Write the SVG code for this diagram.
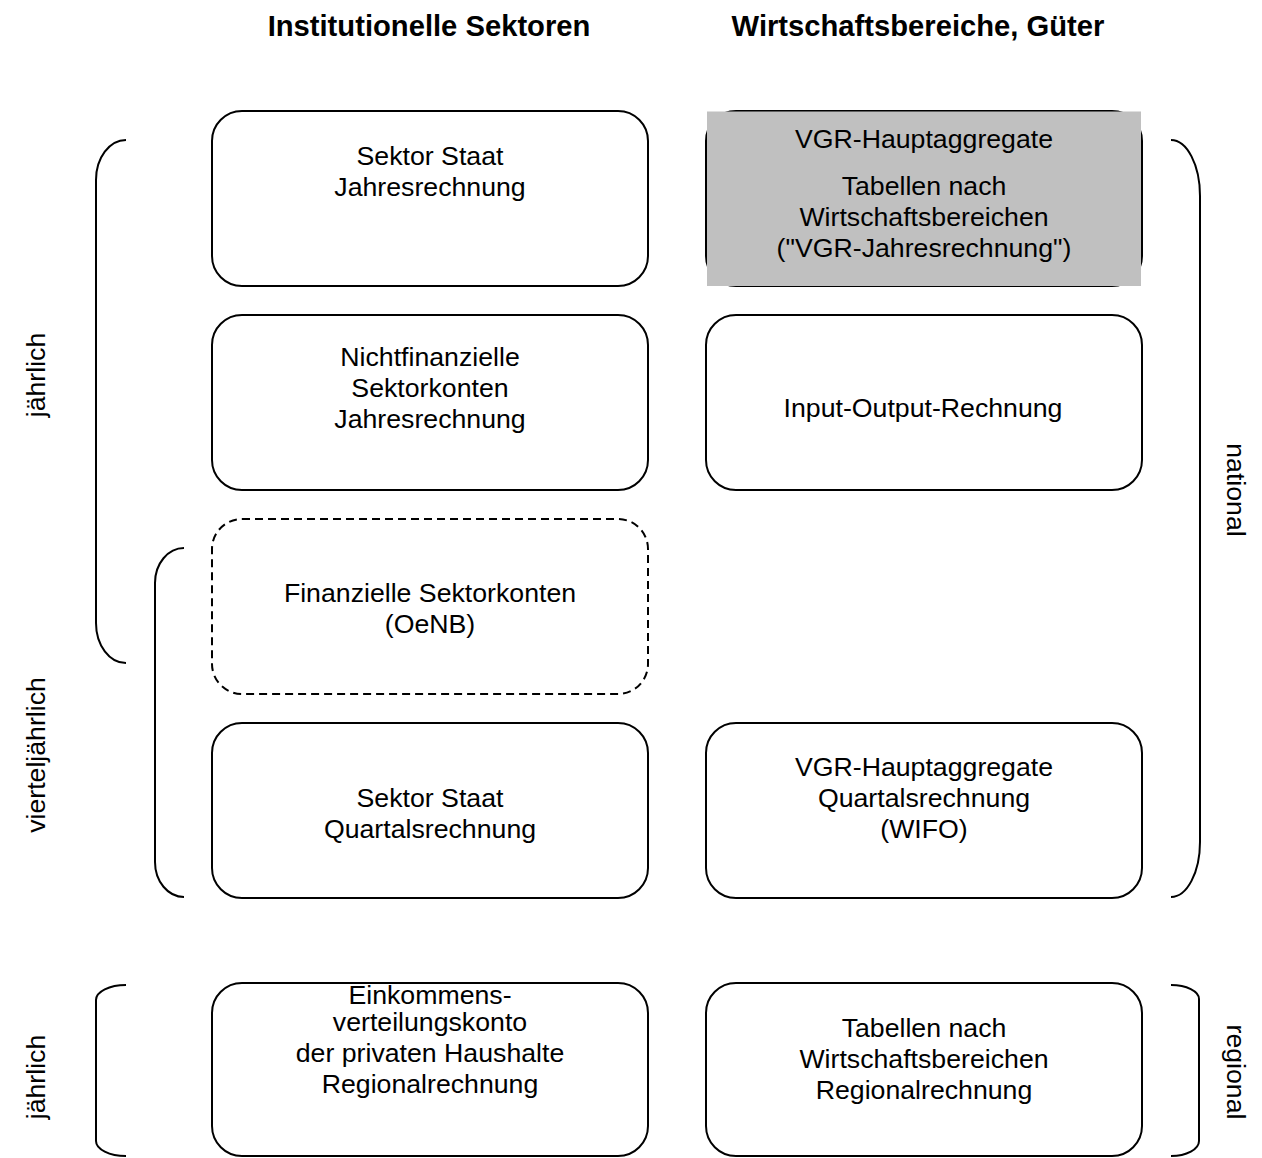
<svg xmlns="http://www.w3.org/2000/svg" width="1262" height="1158" viewBox="0 0 1262 1158">
<style>
.box{fill:#fff;stroke:#000;stroke-width:2}
.dash{fill:#fff;stroke:#000;stroke-width:2;stroke-dasharray:8 5}
.br{fill:none;stroke:#000;stroke-width:2}
text{font-family:"Liberation Sans",Arial,sans-serif;font-size:26.7px;fill:#000;text-anchor:middle}
.h{font-weight:bold;font-size:29.2px}
</style>
<rect width="1262" height="1158" fill="#fff"/>
<text class="h" x="429" y="36">Institutionelle Sektoren</text>
<text class="h" x="918" y="36">Wirtschaftsbereiche, Güter</text>
<g id="brackets">
<path class="br" d="M126,140 A30,40 0 0 0 96,180 L96,623 A30,40 0 0 0 126,663"/>
<path class="br" d="M184,548 A29,35 0 0 0 155,583 L155,862 A29,35 0 0 0 184,897"/>
<path class="br" d="M126,985 A30,15 0 0 0 96,1000 L96,1141 A30,15 0 0 0 126,1156"/>
<path class="br" d="M1171,140 A29,56 0 0 1 1200,196 L1200,842 A29,55 0 0 1 1171,897"/>
<path class="br" d="M1171,985 A28,14 0 0 1 1199,999 L1199,1141 A28,15 0 0 1 1171,1156"/>
</g>
<g id="labels">
<text transform="translate(45,375) rotate(-90)">jährlich</text>
<text transform="translate(45,755) rotate(-90)">vierteljährlich</text>
<text transform="translate(45,1077) rotate(-90)">jährlich</text>
<text transform="translate(1227,490) rotate(90)">national</text>
<text transform="translate(1227,1072) rotate(90)">regional</text>
</g>
<g id="n1"><rect class="box" x="212" y="111" width="436" height="175" rx="30"/>
<text x="430" y="165">Sektor Staat</text><text x="430" y="196">Jahresrechnung</text></g>
<g id="n2"><rect class="box" x="706" y="111" width="436" height="175" rx="30"/>
<rect x="707" y="111.5" width="434" height="174.5" fill="#c0c0c0"/>
<text x="924" y="148">VGR-Hauptaggregate</text><text x="924" y="195">Tabellen nach</text><text x="924" y="226">Wirtschaftsbereichen</text><text x="924" y="257">("VGR-Jahresrechnung")</text></g>
<g id="n3"><rect class="box" x="212" y="315" width="436" height="175" rx="30"/>
<text x="430" y="366">Nichtfinanzielle</text><text x="430" y="397">Sektorkonten</text><text x="430" y="428">Jahresrechnung</text></g>
<g id="n4"><rect class="box" x="706" y="315" width="436" height="175" rx="30"/>
<text x="923" y="417">Input-Output-Rechnung</text></g>
<g id="n5"><rect class="dash" x="212" y="519" width="436" height="175" rx="30"/>
<text x="430" y="602">Finanzielle Sektorkonten</text><text x="430" y="633">(OeNB)</text></g>
<g id="n6"><rect class="box" x="212" y="723" width="436" height="175" rx="30"/>
<text x="430" y="807">Sektor Staat</text><text x="430" y="838">Quartalsrechnung</text></g>
<g id="n7"><rect class="box" x="706" y="723" width="436" height="175" rx="30"/>
<text x="924" y="776">VGR-Hauptaggregate</text><text x="924" y="807">Quartalsrechnung</text><text x="924" y="838">(WIFO)</text></g>
<g id="n8"><rect class="box" x="212" y="983" width="436" height="173" rx="30"/>
<text x="430" y="1004">Einkommens-</text><text x="430" y="1031">verteilungskonto</text><text x="430" y="1062">der privaten Haushalte</text><text x="430" y="1093">Regionalrechnung</text></g>
<g id="n9"><rect class="box" x="706" y="983" width="436" height="173" rx="30"/>
<text x="924" y="1037">Tabellen nach</text><text x="924" y="1068">Wirtschaftsbereichen</text><text x="924" y="1099">Regionalrechnung</text></g>
</svg>
